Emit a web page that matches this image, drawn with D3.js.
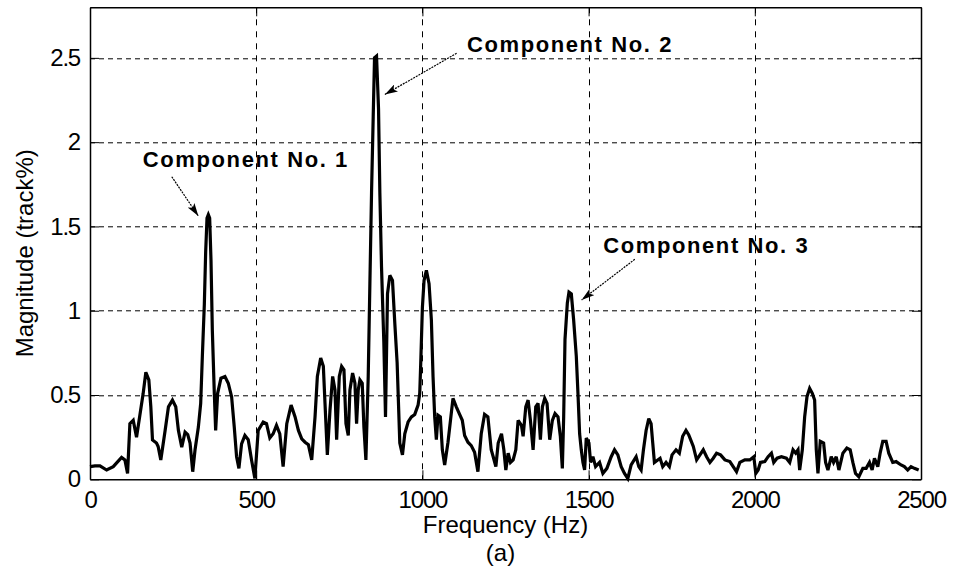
<!DOCTYPE html>
<html>
<head>
<meta charset="utf-8">
<script src="https://cdn.jsdelivr.net/npm/d3@7"></script>
<style>
  body { margin: 0; background: #fff; }
  svg { display: block; }
  text { font-family: "Liberation Sans", Arial, sans-serif; fill: #000; }
</style>
</head>
<body>
<div id="spectrum"></div>
<script>
// spectrum samples: frequency (Hz) and magnitude (track %)
var freq = [0, 15, 30, 50, 70, 95, 105, 113, 120, 130, 140, 150, 160, 168, 177, 183, 188, 200, 205, 213,
    226, 236, 248, 258, 266, 276, 286, 294, 301, 309, 316, 326, 333, 338, 344, 348, 352, 356, 360, 364,
    368, 374, 378, 384, 394, 406, 416, 426, 434, 441, 448, 456, 466, 476, 486, 496, 506, 521, 531, 541,
    551, 561, 571, 581, 592, 605, 617, 627, 637, 647, 657, 667, 677, 684, 694, 702, 707, 714, 722, 730,
    737, 742, 750, 757, 764, 770, 777, 782, 790, 797, 802, 807, 812, 819, 824, 830, 837, 842, 847, 852,
    856, 862, 868, 872, 877, 884, 889, 895, 902, 910, 917, 924, 932, 940, 947, 957, 967, 977, 987, 992,
    995, 1000, 1005, 1012, 1020, 1027, 1032, 1037, 1042, 1047, 1054, 1060, 1067, 1077, 1092, 1102, 1112, 1120, 1127, 1137,
    1147, 1157, 1167, 1177, 1187, 1197, 1207, 1213, 1221, 1228, 1238, 1245, 1251, 1258, 1265, 1273, 1281, 1288, 1298, 1303,
    1311, 1318, 1325, 1333, 1341, 1348, 1355, 1361, 1368, 1375, 1383, 1391, 1399, 1408, 1415, 1421, 1425, 1429, 1436, 1441,
    1448, 1455, 1463, 1468, 1473, 1478, 1483, 1488, 1493, 1501, 1506, 1513, 1521, 1533, 1543, 1555, 1568, 1578, 1588, 1598,
    1608, 1618, 1628, 1643, 1651, 1658, 1665, 1673, 1681, 1688, 1693, 1698, 1708, 1715, 1723, 1733, 1743, 1751, 1763, 1773,
    1783, 1793, 1801, 1806, 1815, 1825, 1835, 1845, 1855, 1865, 1875, 1885, 1897, 1910, 1925, 1935, 1945, 1955, 1970, 1985,
    1997, 2003, 2010, 2017, 2030, 2040, 2050, 2057, 2067, 2080, 2095, 2105, 2115, 2123, 2130, 2135, 2143, 2150, 2157, 2165,
    2173, 2180, 2185, 2190, 2197, 2207, 2213, 2220, 2230, 2237, 2245, 2253, 2265, 2277, 2287, 2295, 2303, 2313, 2325, 2335,
    2345, 2353, 2360, 2370, 2377, 2385, 2395, 2403, 2415, 2425, 2440, 2450, 2460, 2470, 2480, 2493];

var mag = [0.075, 0.08, 0.08, 0.055, 0.075, 0.13, 0.115, 0.035, 0.33, 0.35, 0.25, 0.38, 0.51, 0.635, 0.59, 0.43, 0.233, 0.215, 0.195, 0.115,
    0.29, 0.43, 0.47, 0.43, 0.29, 0.19, 0.28, 0.265, 0.215, 0.045, 0.175, 0.31, 0.45, 0.73, 1.04, 1.35, 1.55, 1.57, 1.55, 1.3,
    0.885, 0.51, 0.29, 0.51, 0.60, 0.61, 0.57, 0.49, 0.31, 0.134, 0.065, 0.21, 0.26, 0.235, 0.115, 0.005, 0.29, 0.34, 0.33, 0.245,
    0.27, 0.32, 0.27, 0.075, 0.33, 0.44, 0.37, 0.29, 0.24, 0.22, 0.205, 0.115, 0.37, 0.61, 0.72, 0.67, 0.45, 0.145, 0.41, 0.61,
    0.53, 0.235, 0.61, 0.67, 0.65, 0.33, 0.26, 0.53, 0.63, 0.57, 0.33, 0.53, 0.59, 0.57, 0.31, 0.115, 0.61, 1.16, 1.70, 2.15,
    2.50, 2.51, 2.2, 1.70, 1.26, 0.81, 0.37, 1.10, 1.21, 1.18, 0.925, 0.69, 0.215, 0.145, 0.27, 0.34, 0.37, 0.385, 0.44, 0.51,
    0.69, 1.02, 1.18, 1.24, 1.16, 0.945, 0.61, 0.37, 0.235, 0.38, 0.37, 0.175, 0.085, 0.22, 0.48, 0.43, 0.385, 0.35, 0.26, 0.22,
    0.2, 0.16, 0.045, 0.27, 0.385, 0.37, 0.175, 0.134, 0.075, 0.215, 0.27, 0.175, 0.055, 0.155, 0.1, 0.115, 0.175, 0.35, 0.32, 0.255,
    0.43, 0.47, 0.35, 0.175, 0.43, 0.45, 0.235, 0.43, 0.48, 0.45, 0.235, 0.35, 0.39, 0.37, 0.255, 0.065, 0.37, 0.83, 1.045, 1.11,
    1.10, 0.945, 0.73, 0.51, 0.27, 0.175, 0.1, 0.055, 0.245, 0.215, 0.1, 0.134, 0.075, 0.1, 0.035, 0.065, 0.134, 0.175, 0.145, 0.075,
    0.035, 0.005, 0.085, 0.134, 0.075, 0.055, 0.175, 0.29, 0.36, 0.33, 0.215, 0.1, 0.115, 0.125, 0.075, 0.1, 0.075, 0.145, 0.175, 0.155,
    0.255, 0.29, 0.265, 0.24, 0.195, 0.115, 0.145, 0.175, 0.134, 0.1, 0.125, 0.155, 0.145, 0.115, 0.105, 0.075, 0.045, 0.1, 0.115, 0.115,
    0.134, 0.035, 0.055, 0.1, 0.105, 0.134, 0.155, 0.1, 0.125, 0.134, 0.125, 0.1, 0.175, 0.155, 0.175, 0.055, 0.175, 0.37, 0.49, 0.54,
    0.51, 0.47, 0.175, 0.035, 0.225, 0.215, 0.1, 0.055, 0.134, 0.1, 0.134, 0.055, 0.155, 0.185, 0.175, 0.1, 0.035, 0.015, 0.065, 0.065,
    0.1, 0.055, 0.125, 0.075, 0.155, 0.225, 0.225, 0.155, 0.1, 0.105, 0.085, 0.075, 0.055, 0.075, 0.065, 0.055];

var xTicks = [0, 500, 1000, 1500, 2000, 2500];
var yTicks = [0, 0.5, 1, 1.5, 2, 2.5];

// annotation text position, arrow tail and arrow tip, all in data units
var noteLabels = ["Component No. 1", "Component No. 2", "Component No. 3"];
var noteText = [[159, 1.851], [1134, 2.533], [1544, 1.341]];
var noteTail = [[246, 1.795], [1103, 2.527], [1639, 1.305]];
var noteTip = [[326, 1.562], [887, 2.283], [1479, 1.064]];

function init() {
    var W = 953, H = 573;
    var margin = {top: 7.3, right: 32, bottom: 93.7, left: 90};
    var w = W - margin.left - margin.right;
    var h = H - margin.top - margin.bottom;

    var svg = d3.select("#spectrum")
        .append("svg")
        .attr("width", W)
        .attr("height", H);

    var g = svg.append("g")
        .attr("transform", "translate(" + margin.left + "," + margin.top + ")");

    var x = d3.scaleLinear().domain([0, 2500]).range([0, w]);
    var y = d3.scaleLinear().domain([0, 2.8]).range([h, 0]);

    //dashed grid
    g.selectAll(".vgrid")
        .data(xTicks.slice(1, -1))
        .enter()
        .append("line")
        .attr("x1", function(d) { return Math.round(x(d)) + 0.5; })
        .attr("x2", function(d) { return Math.round(x(d)) + 0.5; })
        .attr("y1", 0)
        .attr("y2", h)
        .attr("stroke", "#000")
        .attr("stroke-width", 1)
        .attr("stroke-dasharray", "6,6");

    g.selectAll(".hgrid")
        .data(yTicks.slice(1))
        .enter()
        .append("line")
        .attr("x1", 0)
        .attr("x2", w)
        .attr("y1", function(d) { return Math.round(y(d)) + 0.5; })
        .attr("y2", function(d) { return Math.round(y(d)) + 0.5; })
        .attr("stroke", "#000")
        .attr("stroke-width", 1)
        .attr("stroke-dasharray", "5,4");

    //spectrum trace
    var pts = freq.map(function(f, i) { return [f, mag[i]]; });
    var line = d3.line()
        .x(function(d) { return x(d[0]); })
        .y(function(d) { return y(d[1]); });

    g.append("path")
        .datum(pts)
        .attr("d", line)
        .attr("fill", "none")
        .attr("stroke", "#000")
        .attr("stroke-width", 3.2)
        .attr("stroke-linejoin", "miter")
        .attr("stroke-miterlimit", 3);

    //axes with inward ticks on all four sides
    var xAxis = d3.axisBottom(x).tickValues(xTicks).tickSizeInner(-9).tickSizeOuter(0).tickPadding(12)
        .tickFormat(d3.format("d"));
    var yAxis = d3.axisLeft(y).tickValues(yTicks).tickSizeInner(-9).tickSizeOuter(0).tickPadding(10)
        .tickFormat(d3.format("~g"));

    var gx = g.append("g").attr("transform", "translate(0," + h + ")").call(xAxis);
    var gy = g.append("g").call(yAxis);
    g.append("g").call(d3.axisTop(x).tickValues(xTicks).tickSizeInner(-9).tickSizeOuter(0).tickFormat(""));
    g.append("g").attr("transform", "translate(" + w + ",0)")
        .call(d3.axisRight(y).tickValues(yTicks).tickSizeInner(-9).tickSizeOuter(0).tickFormat(""));

    g.selectAll(".domain").attr("stroke", "#000").attr("stroke-width", 1.5);
    g.selectAll(".tick line").attr("stroke", "#000");

    [gx, gy].forEach(function(a) {
        a.selectAll("text")
            .style("font-family", "'Liberation Sans', Arial, sans-serif")
            .style("font-size", "24px")
            .style("letter-spacing", "-1.2px")
            .attr("fill", "#000");
    });

    //axis titles
    svg.append("text")
        .attr("x", margin.left + w / 2)
        .attr("y", 533)
        .attr("text-anchor", "middle")
        .style("font-size", "24px")
        .text("Frequency (Hz)");

    svg.append("text")
        .attr("x", margin.left + w / 2 - 5)
        .attr("y", 561)
        .attr("text-anchor", "middle")
        .style("font-size", "24px")
        .text("(a)");

    svg.append("text")
        .attr("transform", "translate(33," + (margin.top + h / 2 + 10) + ") rotate(-90)")
        .attr("text-anchor", "middle")
        .style("font-size", "24px")
        .text("Magnitude (track%)");

    //component annotations
    var defs = svg.append("defs");
    defs.append("marker")
        .attr("id", "head")
        .attr("viewBox", "0 0 13 8")
        .attr("refX", 13)
        .attr("refY", 4)
        .attr("markerWidth", 13)
        .attr("markerHeight", 8)
        .attr("markerUnits", "userSpaceOnUse")
        .attr("orient", "auto")
        .append("path")
        .attr("d", "M0,0 L13,4 L0,8 L3,4 Z")
        .attr("fill", "#000");

    g.selectAll(".arrow")
        .data(noteTail)
        .enter()
        .append("line")
        .attr("x1", function(d) { return x(d[0]); })
        .attr("y1", function(d) { return y(d[1]); })
        .attr("x2", function(d, i) { return x(noteTip[i][0]); })
        .attr("y2", function(d, i) { return y(noteTip[i][1]); })
        .attr("stroke", "#000")
        .attr("stroke-width", 1.2)
        .attr("stroke-dasharray", "2,1")
        .attr("marker-end", "url(#head)");

    g.selectAll(".note")
        .data(noteText)
        .enter()
        .append("text")
        .attr("x", function(d) { return x(d[0]); })
        .attr("y", function(d) { return y(d[1]); })
        .style("font-size", "22px")
        .style("font-weight", "bold")
        .style("letter-spacing", "1.6px")
        .text(function(d, i) { return noteLabels[i]; });
}

window.onload = init;
</script>
</body>
</html>
